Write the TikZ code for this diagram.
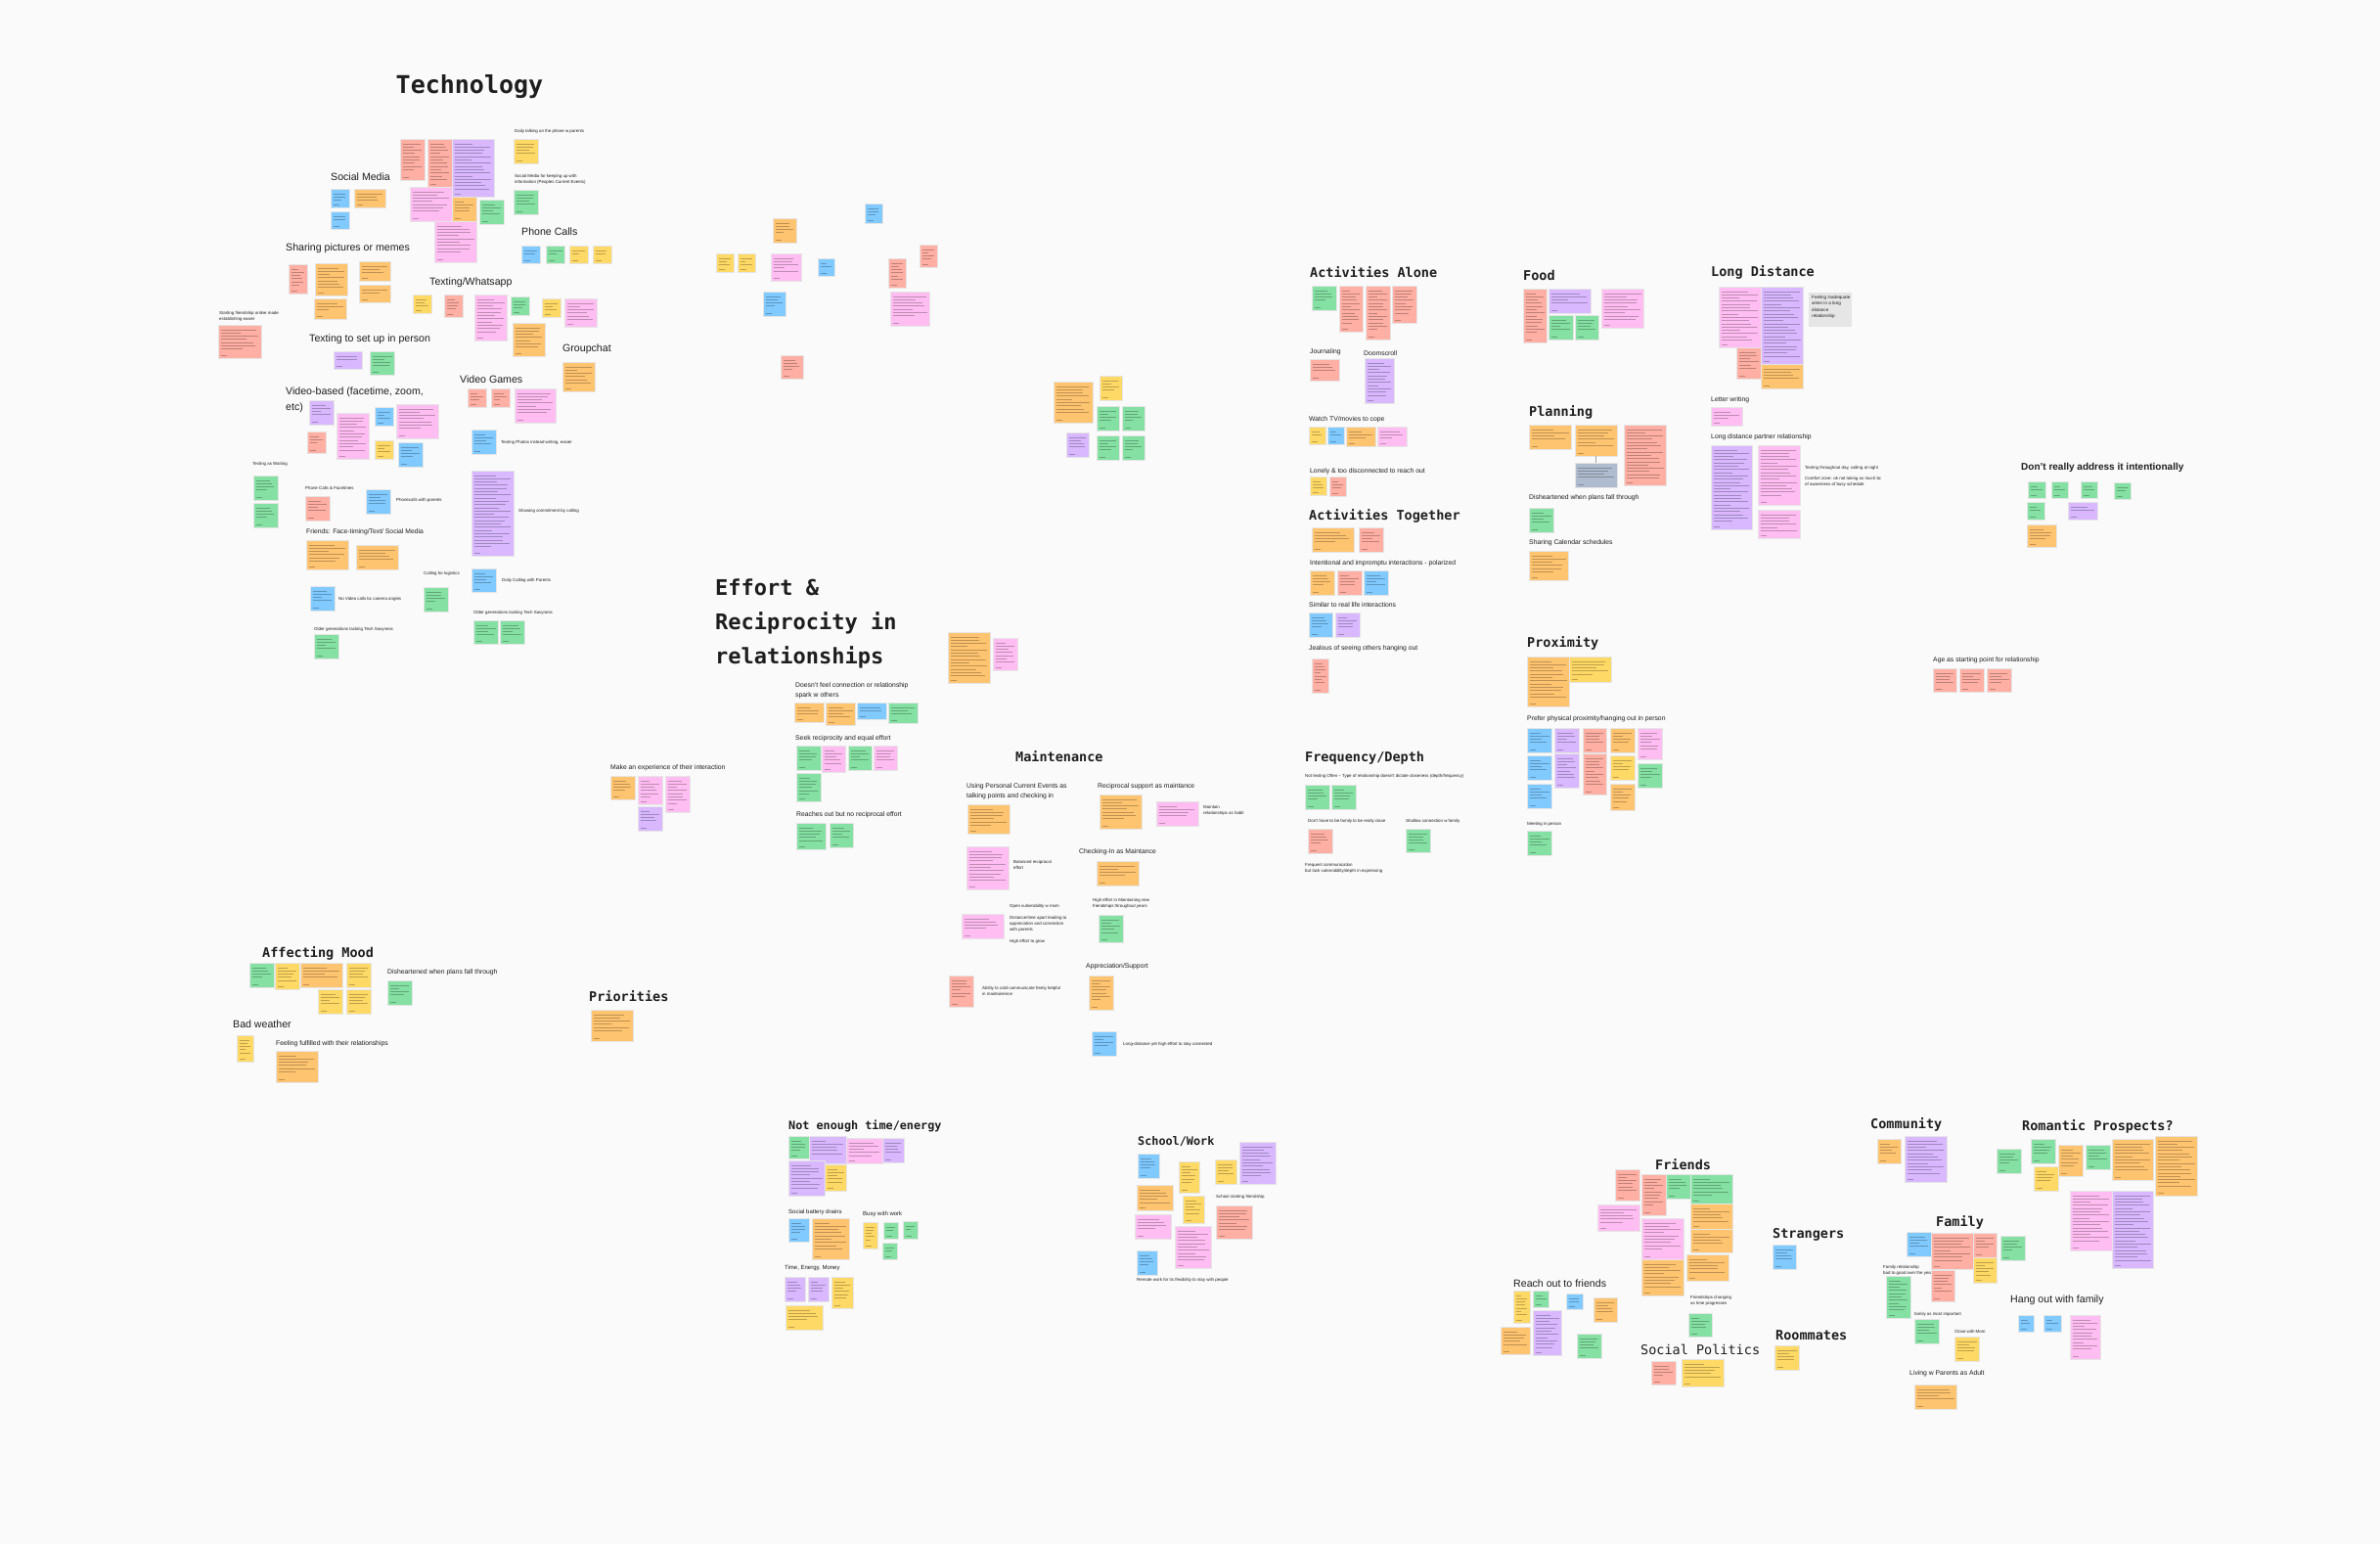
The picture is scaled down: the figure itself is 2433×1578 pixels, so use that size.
\documentclass[tikz,border=0pt]{standalone}
\usepackage{fontspec}
\setmainfont{Liberation Sans}
\setmonofont{DejaVu Sans Mono}
\definecolor{bgc}{RGB}{250,250,250}
\definecolor{NR}{HTML}{FFAFA3}
\definecolor{NO}{HTML}{FFC470}
\definecolor{NY}{HTML}{FFD966}
\definecolor{NG}{HTML}{85E0A3}
\definecolor{NB}{HTML}{80CAFF}
\definecolor{NV}{HTML}{D9B8FF}
\definecolor{NP}{HTML}{FFBDF2}
\definecolor{NS}{HTML}{AFBCCF}
\definecolor{NGr}{HTML}{E6E6E6}
\definecolor{ink}{HTML}{1E1E1E}
\tikzset{
  stick/.style={draw=black!10, line width=0.35pt},
  txtl/.style={draw=black, opacity=0.26, line width=0.55pt},
  lab/.style={inner sep=0pt, anchor=west, align=left, text=ink},
  hdr/.style={lab, font=\ttfamily\bfseries\fontsize{13.5}{16}\selectfont},
  labM/.style={lab, font=\fontsize{6.8}{9.7}\selectfont},
  labS/.style={lab, font=\fontsize{6}{9}\selectfont},
  labT/.style={lab, font=\fontsize{4.4}{6}\selectfont},
  labB/.style={lab, font=\fontsize{10.6}{16}\selectfont},
}
\newcommand\stk[5]{%
  \filldraw[stick,fill=#1] (#2,#3) rectangle (#4,#5);
  \pgfmathtruncatemacro\stkN{max(1,((#5)-(#3)-9)/3.3)}%
  \foreach \k in {1,...,\stkN}{%
    \pgfmathsetmacro\stkL{((#4)-(#2)-5)*(0.45+0.55*abs(sin(\k*73+#2)))}%
    \draw[txtl] ({#2+2.5},{#3+1.5+\k*3.3}) -- ++(\stkL,0);
  }%
  \draw[txtl] ({#2+2.5},{#5-3}) -- ++(6,0);
}
\begin{document}
\begin{tikzpicture}[x=1pt,y=-1pt]
\path[use as bounding box, fill=bgc] (0,0) rectangle (2433,1578);
% ---------------- Technology ----------------
\node[lab, anchor=center, font=\ttfamily\bfseries\fontsize{25}{30}\selectfont] (tech) at (480,89) {Technology};
\node[labB] (tsm) at (338,181) {Social Media};
\node[labB] (tpc) at (533,237) {Phone Calls};
\node[labB] (tsp) at (292,254) {Sharing pictures or memes};
\node[labB] (ttw) at (439,289) {Texting/Whatsapp};
\node[labB] (tts) at (316,347) {Texting to set up in person};
\node[labB] (tgc) at (575,357) {Groupchat};
\node[labB] (tvg) at (470,388) {Video Games};
\node[labB] (tvb) at (292,409) {Video-based (facetime, zoom,\\etc)};
\node[labM] (tff) at (313,544) {Friends: Face-timing/Text/ Social Media};
\node[labT] (t1) at (526,134) {Daily talking on the phone w parents};
\node[labT] (t2) at (526,183) {Social Media for keeping up with\\information (Peoples Current Events)};
\node[labT] (t3) at (224,323) {Starting friendship online made\\establishing easier};
\node[labT] (t4) at (512,452) {Texting Photos instead writing, easier};
\node[labT] (t5) at (258,474) {Texting as Waiting};
\node[labT] (t6) at (312,499) {Phone Calls \& Facetimes};
\node[labT] (t7) at (405,511) {Phonecalls with parents};
\node[labT] (t8) at (530,522) {Showing commitment by calling};
\node[labT] (t9) at (433,586) {Calling for logistics};
\node[labT] (t10) at (513,593) {Daily Calling with Parents};
\node[labT] (t11) at (346,612) {No Video calls bc camera angles};
\node[labT] (t12) at (484,626) {Older generations lacking Tech Savyness};
\node[labT] (t13) at (321,643) {Older generations lacking Tech Savyness};
\stk{NR}{409}{142}{434}{184}
\stk{NR}{437}{142}{462}{191}
\stk{NV}{462}{142}{505}{201}
\stk{NP}{419}{191}{462}{226}
\stk{NO}{462}{201}{487}{226}
\stk{NG}{490}{204}{515}{229}
\stk{NP}{444}{226}{487}{268}
\stk{NY}{525}{142}{550}{167}
\stk{NG}{525}{194}{550}{219}
\stk{NB}{338}{193}{357}{212}
\stk{NO}{362}{193}{394}{212}
\stk{NB}{338}{216}{357}{234}
\stk{NB}{533}{251}{552}{269}
\stk{NG}{558}{251}{577}{269}
\stk{NY}{582}{251}{601}{269}
\stk{NY}{606}{251}{625}{269}
\stk{NR}{295}{270}{314}{300}
\stk{NO}{322}{269}{355}{302}
\stk{NO}{367}{267}{399}{287}
\stk{NO}{367}{291}{399}{309}
\stk{NO}{321}{305}{354}{326}
\stk{NY}{422}{301}{441}{320}
\stk{NR}{454}{301}{473}{324}
\stk{NP}{485}{301}{518}{348}
\stk{NG}{522}{303}{541}{322}
\stk{NY}{554}{305}{573}{324}
\stk{NP}{577}{305}{610}{334}
\stk{NO}{524}{330}{557}{364}
\stk{NR}{223}{332}{267}{366}
\stk{NV}{341}{359}{370}{377}
\stk{NG}{378}{359}{403}{383}
\stk{NO}{575}{370}{608}{400}
\stk{NR}{478}{397}{497}{416}
\stk{NR}{502}{397}{521}{416}
\stk{NP}{526}{397}{568}{432}
\stk{NV}{316}{409}{341}{434}
\stk{NP}{344}{422}{377}{469}
\stk{NB}{383}{416}{402}{435}
\stk{NP}{405}{413}{448}{448}
\stk{NR}{314}{441}{333}{463}
\stk{NY}{383}{450}{402}{469}
\stk{NB}{407}{452}{432}{477}
\stk{NB}{482}{439}{507}{464}
\stk{NG}{259}{486}{284}{511}
\stk{NG}{259}{514}{284}{539}
\stk{NR}{312}{507}{337}{532}
\stk{NB}{374}{500}{399}{525}
\stk{NV}{482}{481}{525}{568}
\stk{NO}{313}{552}{356}{582}
\stk{NO}{364}{557}{407}{582}
\stk{NG}{433}{600}{458}{625}
\stk{NB}{482}{581}{507}{605}
\stk{NB}{317}{599}{342}{624}
\stk{NG}{484}{634}{509}{658}
\stk{NG}{511}{634}{536}{658}
\stk{NG}{321}{648}{346}{673}
% ---------------- middle cluster ----------------
\stk{NO}{790}{223}{814}{248}
\stk{NB}{884}{208}{902}{228}
\stk{NY}{732}{259}{750}{278}
\stk{NY}{754}{259}{772}{278}
\stk{NP}{788}{259}{819}{287}
\stk{NB}{836}{264}{853}{282}
\stk{NB}{780}{298}{803}{323}
\stk{NR}{940}{250}{958}{273}
\stk{NR}{908}{264}{926}{294}
\stk{NP}{910}{298}{950}{333}
\stk{NR}{798}{363}{821}{387}
\stk{NO}{1077}{390}{1117}{432}
\stk{NY}{1124}{384}{1147}{409}
\stk{NG}{1121}{415}{1144}{440}
\stk{NG}{1147}{415}{1170}{440}
\stk{NV}{1090}{442}{1113}{467}
\stk{NG}{1121}{445}{1144}{470}
\stk{NG}{1147}{445}{1170}{470}
% ---------------- Effort & Reciprocity ----------------
\node[lab, anchor=base west, font=\ttfamily\bfseries\fontsize{22}{26}\selectfont] (e1) at (731,608) {Effort \&};
\node[lab, anchor=base west, font=\ttfamily\bfseries\fontsize{22}{26}\selectfont] (e2) at (731,643) {Reciprocity in};
\node[lab, anchor=base west, font=\ttfamily\bfseries\fontsize{22}{26}\selectfont] (e3) at (731,678) {relationships};
\node[labM] (e4) at (813,706) {Doesn't feel connection or relationship\\spark w others};
\node[labM] (e5) at (813,755) {Seek reciprocity and equal effort};
\node[labM] (e6) at (814,833) {Reaches out but no reciprocal effort};
\node[labM] (e7) at (624,785) {Make an experience of their interaction};
\stk{NO}{969}{646}{1012}{698}
\stk{NP}{1015}{652}{1040}{685}
\stk{NO}{812}{718}{842}{738}
\stk{NO}{844}{718}{874}{741}
\stk{NB}{876}{718}{906}{735}
\stk{NG}{908}{718}{938}{739}
\stk{NG}{814}{762}{839}{787}
\stk{NP}{840}{762}{864}{789}
\stk{NG}{867}{762}{891}{787}
\stk{NP}{893}{762}{917}{787}
\stk{NG}{814}{790}{839}{819}
\stk{NG}{814}{841}{844}{868}
\stk{NG}{848}{841}{872}{866}
\stk{NO}{624}{793}{649}{817}
\stk{NP}{652}{793}{677}{822}
\stk{NP}{680}{793}{705}{830}
\stk{NV}{652}{824}{677}{849}
% ---------------- Maintenance ----------------
\node[hdr] (m0) at (1038,773) {Maintenance};
\node[labM] (m1) at (988,809) {Using Personal Current Events as\\talking points and checking in};
\node[labM] (m2) at (1122,804) {Reciprocal support as maintance};
\node[labM] (m3) at (1103,871) {Checking-In as Maintance};
\node[labM] (m4) at (1110,988) {Appreciation/Support};
\node[labT] (m5) at (1036,884) {Balanced reciprocal\\effort};
\node[labT] (m6) at (1230,828) {Maintain\\relationships as habit};
\node[labT] (m7) at (1117,923) {High effort in Maintaining new\\friendships throughout years};
\node[labT] (m8) at (1032,926) {Open vulnerability w mom};
\node[labT] (m9) at (1032,944) {Distance/time apart leading to\\appreciation and connection\\with parents};
\node[labT] (m10) at (1032,962) {High effort to grow};
\node[labT] (m11) at (1004,1013) {Ability to cold-communicate freely helpful\\in maintainence};
\node[labT] (m12) at (1148,1067) {Long-distance yet high effort to stay connected};
\stk{NO}{989}{822}{1032}{852}
\stk{NO}{1124}{812}{1167}{847}
\stk{NP}{1182}{819}{1225}{844}
\stk{NP}{988}{865}{1031}{909}
\stk{NO}{1121}{880}{1164}{905}
\stk{NG}{1123}{935}{1148}{963}
\stk{NP}{983}{934}{1026}{959}
\stk{NO}{1113}{997}{1138}{1032}
\stk{NR}{970}{997}{995}{1029}
\stk{NB}{1116}{1054}{1141}{1079}
% ---------------- Activities ----------------
\node[hdr] (a0) at (1339,278) {Activities Alone};
\node[labM] (a1) at (1339,360) {Journaling};
\node[labM] (a2) at (1394,361) {Doomscroll};
\node[labM] (a3) at (1338,429) {Watch TV/movies to cope};
\node[labM] (a4) at (1339,482) {Lonely \& too disconnected to reach out};
\node[hdr] (a5) at (1338,527) {Activities Together};
\node[labM] (a6) at (1339,576) {Intentional and impromptu interactions - polarized};
\node[labM] (a7) at (1338,618) {Similar to real life interactions};
\node[labM] (a8) at (1338,663) {Jealous of seeing others hanging out};
\stk{NG}{1341}{292}{1366}{317}
\stk{NR}{1369}{292}{1393}{339}
\stk{NR}{1396}{292}{1421}{347}
\stk{NR}{1423}{292}{1448}{330}
\stk{NR}{1339}{367}{1369}{389}
\stk{NV}{1395}{366}{1425}{412}
\stk{NY}{1338}{436}{1355}{454}
\stk{NB}{1357}{436}{1374}{454}
\stk{NO}{1376}{436}{1406}{456}
\stk{NP}{1408}{436}{1438}{456}
\stk{NY}{1339}{487}{1356}{506}
\stk{NR}{1359}{487}{1376}{507}
\stk{NO}{1341}{539}{1384}{564}
\stk{NR}{1389}{539}{1414}{564}
\stk{NO}{1339}{583}{1364}{608}
\stk{NR}{1367}{583}{1392}{608}
\stk{NB}{1394}{583}{1419}{608}
\stk{NB}{1338}{626}{1362}{651}
\stk{NV}{1365}{626}{1390}{651}
\stk{NR}{1341}{673}{1358}{708}
% ---------------- Food / Planning / Long distance ----------------
\node[hdr] (f0) at (1557,281) {Food};
\node[hdr] (p0) at (1563,421) {Planning};
\node[labM] (p1) at (1563,509) {Disheartened when plans fall through};
\node[labM] (p2) at (1563,555) {Sharing Calendar schedules};
\node[hdr] (l0) at (1749,278) {Long Distance};
\node[labM] (l1) at (1749,409) {Letter writing};
\node[labM] (l2) at (1749,447) {Long distance partner relationship};
\node[labT] (l3) at (1845,478) {Texting throughout day, calling at night};
\node[labT] (l4) at (1845,492) {Comfort zone: ok not taking as much bc\\of awareness of busy schedule};
\stk{NR}{1557}{295}{1581}{350}
\stk{NV}{1583}{295}{1626}{320}
\stk{NG}{1583}{322}{1608}{347}
\stk{NG}{1610}{322}{1634}{347}
\stk{NP}{1637}{295}{1680}{335}
\stk{NP}{1757}{293}{1800}{355}
\stk{NV}{1800}{293}{1843}{372}
\stk{NR}{1775}{355}{1800}{387}
\stk{NO}{1800}{372}{1843}{397}
\filldraw[stick,fill=NGr] (1849,299) rectangle (1892,333);
\node[lab, anchor=north west, font=\fontsize{4.6}{6.3}\selectfont] (l5) at (1852,302) {Feeling inadequate\\when in a long\\distance\\relationship};
\stk{NP}{1749}{416}{1781}{435}
\stk{NV}{1749}{455}{1791}{541}
\stk{NP}{1797}{455}{1840}{516}
\stk{NP}{1797}{521}{1840}{550}
\stk{NO}{1563}{434}{1606}{459}
\stk{NO}{1610}{434}{1653}{466}
\stk{NS}{1610}{473}{1653}{498}
\coordinate (pa) at (1631,466);
\coordinate (pb) at (1631,473);
\draw[black!35, line width=0.5pt] (pa) -- (pb);
\stk{NR}{1660}{434}{1703}{496}
\stk{NG}{1563}{519}{1588}{544}
\stk{NO}{1563}{563}{1603}{593}
% ---------------- Proximity / Frequency ----------------
\node[hdr] (x0) at (1561,657) {Proximity};
\node[labM] (x1) at (1561,735) {Prefer physical proximity/hanging out in person};
\node[labT] (x2) at (1561,842) {Meeting in person};
\node[hdr] (q0) at (1334,775) {Frequency/Depth};
\node[labT] (q1) at (1334,793) {Not texting Often -- Type of relationship doesn't dictate closeness (depth/frequency)};
\node[labT] (q2) at (1337,839) {Don't have to be family to be really close};
\node[labT] (q3) at (1437,839) {Shallow connection w family};
\node[labT] (q4) at (1334,887) {Frequent communication\\but lack vulnerability/depth in expressing};
\stk{NO}{1561}{671}{1604}{722}
\stk{NY}{1604}{671}{1647}{697}
\stk{NB}{1561}{744}{1586}{769}
\stk{NV}{1589}{744}{1614}{769}
\stk{NR}{1618}{744}{1642}{769}
\stk{NO}{1646}{744}{1671}{769}
\stk{NP}{1674}{744}{1699}{776}
\stk{NB}{1561}{772}{1586}{797}
\stk{NV}{1589}{770}{1614}{805}
\stk{NR}{1618}{770}{1642}{812}
\stk{NY}{1646}{772}{1671}{797}
\stk{NG}{1674}{780}{1699}{805}
\stk{NB}{1561}{801}{1586}{826}
\stk{NO}{1646}{801}{1671}{828}
\stk{NG}{1561}{849}{1586}{874}
\stk{NG}{1334}{802}{1359}{827}
\stk{NG}{1361}{802}{1386}{827}
\stk{NR}{1337}{847}{1362}{872}
\stk{NG}{1437}{847}{1462}{871}
% ---------------- right side ----------------
\node[lab, font=\bfseries\fontsize{10}{12}\selectfont] (r0) at (2066,478) {Don't really address it intentionally};
\stk{NG}{2073}{492}{2091}{509}
\stk{NG}{2097}{492}{2114}{509}
\stk{NG}{2127}{492}{2144}{509}
\stk{NG}{2161}{493}{2178}{510}
\stk{NG}{2072}{513}{2090}{531}
\stk{NV}{2114}{513}{2144}{531}
\stk{NO}{2072}{536}{2102}{559}
\node[labM] (r1) at (1976,675) {Age as starting point for relationship};
\stk{NR}{1976}{683}{2000}{707}
\stk{NR}{2003}{683}{2028}{707}
\stk{NR}{2031}{683}{2056}{707}
% ---------------- Affecting Mood / Priorities ----------------
\node[hdr] (am0) at (268,974) {Affecting Mood};
\node[labM] (am1) at (396,994) {Disheartened when plans fall through};
\node[labB] (am2) at (238,1047) {Bad weather};
\node[labM] (am3) at (282,1067) {Feeling fulfilled with their relationships};
\node[hdr] (pr0) at (602,1018) {Priorities};
\stk{NG}{255}{984}{280}{1009}
\stk{NY}{281}{984}{306}{1011}
\stk{NO}{307}{984}{350}{1009}
\stk{NY}{354}{984}{379}{1009}
\stk{NY}{325}{1011}{350}{1036}
\stk{NY}{354}{1011}{379}{1036}
\stk{NG}{396}{1002}{421}{1027}
\stk{NO}{604}{1032}{647}{1064}
\stk{NY}{242}{1058}{259}{1085}
\stk{NO}{282}{1074}{325}{1106}
% ---------------- Not enough time / School-Work ----------------
\node[hdr, font=\ttfamily\bfseries\fontsize{11.8}{14}\selectfont] (ne0) at (806,1151) {Not enough time/energy};
\node[labS] (ne1) at (806,1239) {Social battery drains};
\node[labS] (ne2) at (882,1241) {Busy with work};
\node[labS] (ne3) at (802,1296) {Time, Energy, Money};
\stk{NG}{806}{1161}{827}{1184}
\stk{NV}{827}{1161}{865}{1189}
\stk{NP}{865}{1163}{902}{1189}
\stk{NV}{902}{1163}{924}{1188}
\stk{NV}{806}{1186}{843}{1222}
\stk{NY}{843}{1190}{865}{1217}
\stk{NB}{806}{1245}{827}{1269}
\stk{NO}{830}{1245}{868}{1287}
\stk{NY}{882}{1249}{897}{1276}
\stk{NG}{903}{1249}{918}{1266}
\stk{NG}{923}{1248}{938}{1266}
\stk{NG}{902}{1270}{917}{1287}
\stk{NV}{802}{1305}{823}{1330}
\stk{NV}{826}{1305}{847}{1330}
\stk{NY}{850}{1305}{872}{1337}
\stk{NY}{803}{1334}{841}{1359}
\node[hdr, font=\ttfamily\bfseries\fontsize{11.8}{14}\selectfont] (sw0) at (1163,1167) {School/Work};
\node[labT] (sw1) at (1243,1223) {School starting friendship};
\node[labT] (sw2) at (1162,1308) {Remote work for its flexibility to stay with people};
\stk{NB}{1163}{1179}{1185}{1204}
\stk{NO}{1162}{1211}{1199}{1237}
\stk{NP}{1160}{1241}{1197}{1266}
\stk{NB}{1162}{1278}{1183}{1303}
\stk{NY}{1205}{1187}{1226}{1219}
\stk{NY}{1209}{1222}{1231}{1250}
\stk{NP}{1201}{1253}{1238}{1296}
\stk{NY}{1242}{1185}{1264}{1210}
\stk{NV}{1267}{1167}{1304}{1210}
\stk{NR}{1243}{1232}{1280}{1266}
% ---------------- Friends ----------------
\node[hdr] (fr0) at (1692,1190) {Friends};
\node[labT] (fr1) at (1728,1329) {Friendships changing\\as time progresses};
\node[labB] (fr2) at (1547,1312) {Reach out to friends};
\node[hdr, font=\ttfamily\fontsize{13.5}{16}\selectfont] (fr3) at (1677,1379) {Social Politics};
\node[hdr] (fr4) at (1812,1262) {Strangers};
\node[hdr] (fr5) at (1815,1365) {Roommates};
\stk{NR}{1651}{1195}{1676}{1227}
\stk{NR}{1678}{1200}{1703}{1242}
\stk{NG}{1703}{1200}{1728}{1225}
\stk{NG}{1728}{1200}{1771}{1230}
\stk{NP}{1633}{1231}{1676}{1258}
\stk{NO}{1728}{1230}{1771}{1256}
\stk{NO}{1728}{1256}{1771}{1280}
\stk{NP}{1678}{1245}{1721}{1287}
\stk{NO}{1678}{1287}{1721}{1324}
\stk{NO}{1724}{1282}{1767}{1309}
\stk{NG}{1726}{1342}{1750}{1366}
\stk{NY}{1547}{1319}{1564}{1352}
\stk{NG}{1567}{1319}{1583}{1336}
\stk{NB}{1601}{1322}{1618}{1338}
\stk{NO}{1629}{1326}{1653}{1351}
\stk{NV}{1567}{1339}{1596}{1385}
\stk{NO}{1534}{1356}{1564}{1384}
\stk{NG}{1612}{1363}{1637}{1388}
\stk{NR}{1688}{1391}{1713}{1415}
\stk{NY}{1719}{1389}{1762}{1417}
\stk{NB}{1812}{1272}{1836}{1297}
\stk{NY}{1814}{1375}{1839}{1400}
% ---------------- Community / Romantic / Family ----------------
\node[hdr] (c0) at (1912,1149) {Community};
\node[hdr] (rp0) at (2067,1151) {Romantic Prospects?};
\node[hdr] (fa0) at (1979,1249) {Family};
\node[labT] (fa1) at (1925,1298) {Family relationship\\bad to good over the years};
\node[labT] (fa2) at (1957,1343) {family as most important};
\node[labT] (fa3) at (1998,1361) {Close with Mom};
\node[labM] (fa4) at (1952,1404) {Living w Parents as Adult};
\node[labB] (fa5) at (2055,1329) {Hang out with family};
\stk{NO}{1919}{1164}{1943}{1189}
\stk{NV}{1947}{1161}{1990}{1208}
\stk{NG}{2041}{1174}{2066}{1199}
\stk{NG}{2076}{1164}{2101}{1189}
\stk{NY}{2079}{1192}{2104}{1217}
\stk{NO}{2104}{1170}{2129}{1202}
\stk{NG}{2132}{1170}{2157}{1195}
\stk{NO}{2159}{1164}{2201}{1206}
\stk{NO}{2203}{1161}{2246}{1222}
\stk{NP}{2116}{1217}{2159}{1278}
\stk{NV}{2159}{1217}{2201}{1296}
\stk{NB}{1949}{1259}{1974}{1284}
\stk{NR}{1974}{1260}{2017}{1297}
\stk{NR}{2017}{1260}{2041}{1285}
\stk{NY}{2017}{1285}{2041}{1311}
\stk{NR}{1974}{1298}{1998}{1330}
\stk{NG}{2045}{1263}{2070}{1288}
\stk{NG}{1928}{1304}{1953}{1347}
\stk{NG}{1957}{1348}{1982}{1373}
\stk{NY}{1998}{1366}{2023}{1391}
\stk{NO}{1957}{1415}{2000}{1440}
\stk{NB}{2063}{1344}{2079}{1361}
\stk{NB}{2089}{1344}{2107}{1361}
\stk{NP}{2116}{1344}{2147}{1389}
\end{tikzpicture}
\end{document}
